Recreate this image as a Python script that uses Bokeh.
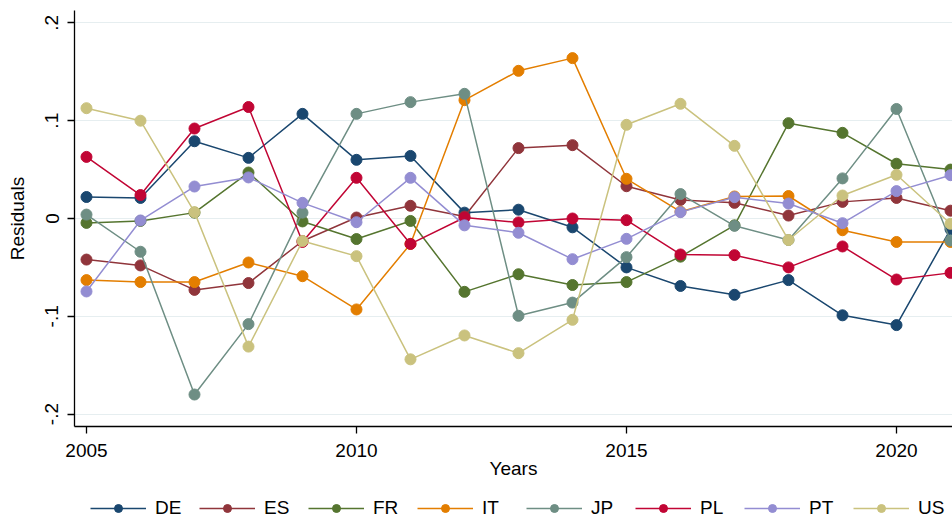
from bokeh.plotting import figure
from bokeh.layouts import column
from bokeh.models import Range1d, FixedTicker, CustomJSTickFormatter, Legend, LegendItem
from bokeh.embed import file_html
from bokeh.resources import INLINE

years = list(range(2005, 2022))
countries = ["DE", "ES", "FR", "IT", "JP", "PL", "PT", "US"]

DE = [0.022, 0.021, 0.079, 0.062, 0.107, 0.060, 0.064, 0.006, 0.009, -0.009, -0.050, -0.069, -0.078, -0.063, -0.099, -0.109, -0.011]
ES = [-0.042, -0.048, -0.073, -0.066, -0.023, 0.001, 0.013, 0.002, 0.072, 0.075, 0.033, 0.019, 0.016, 0.003, 0.017, 0.021, 0.008]
FR = [-0.0045, -0.0025, 0.006, 0.047, -0.003, -0.021, -0.0025, -0.075, -0.057, -0.068, -0.065, -0.039, -0.007, 0.0975, 0.0876, 0.056, 0.050]
IT = [-0.063, -0.065, -0.065, -0.045, -0.059, -0.093, -0.026, 0.121, 0.151, 0.164, 0.0406, 0.007, 0.0225, 0.023, -0.012, -0.024, -0.024]
JP = [0.004, -0.034, -0.180, -0.108, 0.006, 0.107, 0.119, 0.1275, -0.0995, -0.086, -0.0395, 0.025, -0.0075, -0.022, 0.041, 0.112, -0.0225]
PL = [0.063, 0.024, 0.092, 0.114, -0.024, 0.0416, -0.026, 0.001, -0.004, 0.000, -0.0017, -0.0368, -0.0375, -0.050, -0.0286, -0.0624, -0.0556]
PT = [-0.0746, -0.002, 0.0327, 0.042, 0.016, -0.0038, 0.0416, -0.007, -0.0146, -0.0416, -0.0208, 0.0065, 0.0218, 0.0153, -0.0048, 0.028, 0.0443]
US = [0.1128, 0.100, 0.0065, -0.131, -0.023, -0.0385, -0.144, -0.1196, -0.1377, -0.1036, 0.0958, 0.1173, 0.0743, -0.022, 0.0235, 0.0447, -0.0054]

series = {"DE": DE, "ES": ES, "FR": FR, "IT": IT, "JP": JP, "PL": PL, "PT": PT, "US": US}
colors = {"DE": "#1a476f", "ES": "#90353b", "FR": "#55752f", "IT": "#e37e00",
          "JP": "#6e8e84", "PL": "#c10534", "PT": "#938dd2", "US": "#cac27e"}

y_ticks = [-0.2, -0.1, 0.0, 0.1, 0.2]
x_ticks = [2005, 2010, 2015, 2020]

FONT = "Liberation Sans"
FS = "19px"

p = figure(width=952, height=488, output_backend="svg", toolbar_location=None,
           x_range=Range1d(2004.778, 2021.037), y_range=Range1d(-0.2127, 0.2127),
           min_border_left=74, min_border_right=0, min_border_top=10, min_border_bottom=62)
p.outline_line_color = None
p.background_fill_color = "white"
p.border_fill_color = "white"

for c in countries:
    p.line(years, series[c], line_color=colors[c], line_width=1.5)
    p.scatter(years, series[c], size=11, fill_color=colors[c], line_color=colors[c])

# axes
p.xaxis.ticker = FixedTicker(ticks=x_ticks)
p.yaxis.ticker = FixedTicker(ticks=y_ticks)
p.yaxis.formatter = CustomJSTickFormatter(code="""
if (Math.abs(tick) < 1e-9) return "0";
return tick.toFixed(1).replace("0.", ".");
""")
p.yaxis.major_label_orientation = "vertical"
for ax in (p.xaxis[0], p.yaxis[0]):
    ax.axis_line_color = "black"
    ax.axis_line_width = 1.3
    ax.major_tick_line_color = "black"
    ax.major_tick_line_width = 1.3
    ax.major_tick_out = 7
    ax.major_tick_in = 0
    ax.minor_tick_line_color = None
    ax.major_label_text_font = FONT
    ax.major_label_text_font_size = FS
    ax.major_label_text_color = "black"
    ax.axis_label_text_font = FONT
    ax.axis_label_text_font_size = FS
    ax.axis_label_text_font_style = "normal"
    ax.axis_label_text_color = "black"
p.xaxis.axis_label = "Years"
p.yaxis.axis_label = "Residuals"
p.xaxis.major_label_standoff = 10
p.xaxis.axis_label_standoff = -2
p.yaxis.major_label_standoff = 9
p.yaxis.axis_label_standoff = 15

p.xgrid.grid_line_color = None
p.ygrid.grid_line_color = "#e6eef0"
p.ygrid.grid_line_width = 1.2

# legend strip below the plot
lg = figure(width=952, height=33, output_backend="svg", toolbar_location=None,
            x_range=Range1d(0, 1), y_range=Range1d(0, 1),
            min_border_left=0, min_border_right=0, min_border_top=0, min_border_bottom=0)
lg.axis.visible = False
lg.grid.visible = False
lg.outline_line_color = None
items = []
for c in countries:
    r1 = lg.line(years, series[c], line_color=colors[c], line_width=1.5)
    r2 = lg.scatter(years, series[c], size=9, fill_color=colors[c], line_color=colors[c])
    items.append(LegendItem(label=c, renderers=[r1, r2]))
legend = Legend(items=items, orientation="horizontal", location=(16, 2),
                glyph_width=56, glyph_height=20, label_standoff=9, spacing=15, label_width=29,
                label_text_font=FONT, label_text_font_size=FS, label_text_color="black",
                border_line_color=None, background_fill_alpha=0, padding=0, margin=0)
lg.add_layout(legend, "center")

layout = column(p, lg, spacing=0)
open("out.html", "w").write(file_html(layout, INLINE))
